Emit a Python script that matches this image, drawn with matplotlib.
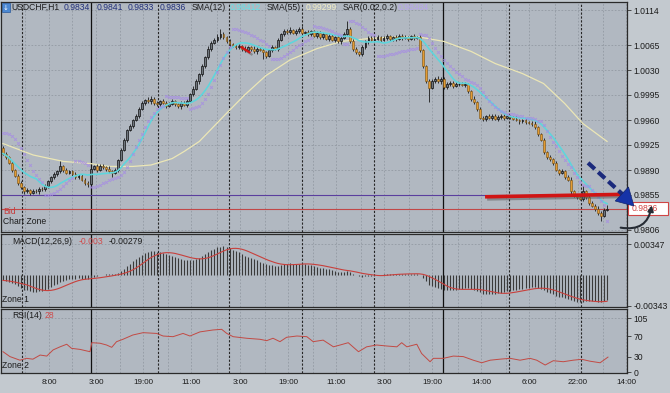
import numpy as np
import pandas as pd
import matplotlib
matplotlib.use("Agg")
import matplotlib.pyplot as plt
import matplotlib.transforms as mtransforms
import matplotlib.patheffects as pe
from matplotlib.patches import Polygon, Rectangle, FancyArrowPatch

plt.rcParams['font.family'] = ['Liberation Sans', 'DejaVu Sans']

W, H = 670, 393

# ---- price data, pips above 0.9800 (USDCHF H1) ----
first_open_pips = 121
close_pips = [
    113, 108, 100, 90, 82, 72, 66, 60, 62, 58,
    61, 60, 64, 63, 68, 74, 80, 84, 88, 95,
    90, 86, 88, 84, 80, 82, 76, 72, 70, 92,
    95, 90, 96, 94, 92, 88, 86, 90, 104, 118,
    132, 146, 152, 160, 166, 176, 184, 188, 186, 190,
    184, 182, 186, 184, 180, 183, 186, 182, 179, 184,
    181, 187, 196, 204, 214, 224, 236, 248, 260, 268,
    272, 276, 280, 276, 270, 266, 264, 262, 263, 260,
    258, 262, 260, 256, 260, 258, 255, 250, 258, 262,
    260, 272, 280, 285, 283, 286, 282, 284, 288, 282,
    283, 280, 284, 278, 282, 276, 280, 274, 278, 272,
    276, 270, 275, 280, 288, 270, 260, 255, 252, 262,
    270, 275, 272, 274, 276, 272, 275, 277, 273, 276,
    274, 278, 275, 276, 274, 277, 275, 276, 258, 235,
    215, 205, 215, 218, 214, 218, 206, 210, 212, 208,
    210, 211, 209, 210, 200, 190, 185, 176, 163, 162,
    165, 163, 166, 162, 164, 166, 163, 165, 164, 162,
    160, 158, 160, 157, 156, 155, 150, 140, 132, 115,
    108, 105, 100, 90, 86, 88, 80, 76, 60, 54,
    52, 50, 60, 52, 44, 40, 36, 30, 26, 34,
    36,
]
wick_up = [
    3, 2, 2, 3, 2, 2, 3, 2, 3, 2,
    2, 3, 2, 2, 3, 2, 2, 3, 2, 8,
    2, 3, 2, 2, 3, 2, 2, 3, 2, 3,
    2, 3, 2, 2, 2, 3, 2, 3, 2, 3,
    3, 2, 3, 2, 3, 2, 3, 2, 4, 3,
    2, 3, 2, 3, 2, 2, 3, 2, 2, 3,
    2, 3, 2, 3, 3, 2, 3, 2, 3, 2,
    3, 4, 8, 3, 2, 3, 2, 2, 3, 2,
    3, 2, 2, 3, 2, 2, 3, 2, 2, 3,
    2, 3, 2, 3, 2, 4, 2, 3, 2, 3,
    2, 3, 2, 2, 3, 2, 3, 2, 2, 3,
    2, 3, 2, 3, 10, 2, 3, 2, 2, 3,
    2, 3, 2, 2, 3, 2, 2, 3, 2, 2,
    3, 2, 2, 3, 2, 2, 3, 2, 3, 2,
    2, 3, 3, 2, 3, 2, 2, 3, 2, 2,
    3, 2, 2, 3, 2, 2, 3, 2, 2, 3,
    2, 3, 2, 2, 3, 2, 2, 3, 2, 2,
    3, 2, 2, 3, 2, 2, 3, 2, 2, 3,
    2, 3, 2, 3, 2, 3, 2, 3, 4, 2,
    3, 3, 7, 2, 3, 2, 2, 3, 2, 3,
    5,
]
wick_dn = [
    2, 3, 2, 3, 2, 3, 2, 3, 2, 3,
    2, 2, 3, 2, 2, 3, 2, 2, 3, 2,
    3, 2, 2, 3, 2, 3, 2, 3, 4, 2,
    2, 3, 2, 2, 3, 2, 6, 2, 3, 2,
    2, 3, 2, 3, 2, 3, 2, 3, 2, 3,
    3, 2, 3, 2, 3, 2, 2, 3, 2, 3,
    2, 3, 2, 3, 2, 3, 2, 3, 2, 3,
    2, 3, 2, 3, 2, 3, 2, 3, 2, 3,
    3, 2, 3, 2, 3, 2, 10, 3, 2, 3,
    2, 3, 2, 3, 2, 3, 2, 3, 2, 3,
    3, 2, 3, 2, 3, 2, 3, 2, 3, 2,
    3, 2, 3, 2, 3, 2, 3, 2, 3, 2,
    2, 3, 2, 3, 2, 3, 2, 3, 2, 3,
    3, 2, 3, 2, 3, 2, 3, 2, 3, 2,
    3, 20, 2, 3, 2, 3, 2, 3, 2, 3,
    2, 3, 2, 3, 2, 3, 2, 3, 2, 3,
    3, 2, 3, 2, 3, 2, 3, 2, 3, 2,
    2, 3, 2, 3, 2, 3, 2, 3, 2, 3,
    3, 2, 3, 2, 3, 2, 3, 2, 3, 2,
    3, 2, 3, 2, 3, 2, 3, 3, 8, 2,
    1,
]
# indicator state at the first visible bar
sar_first_pips = 142
ema12_seed_pips = 121
ema26_seed_pips = 127

# SMA(55) (bar, pips)
sma55_bars = [0, 10, 20, 29, 35, 43, 49, 56, 60, 65, 73, 80, 87, 95, 104, 112,
              121, 129, 138, 146, 155, 163, 172, 179, 186, 192, 200]
sma55_pips = [127, 111, 102, 99, 95, 95, 97, 106, 116, 130, 165, 195, 222, 244,
              260, 270, 274, 276, 276, 270, 256, 239, 225, 211, 183, 155, 130]

# RSI(14) (bar, value)
rsi_bars = [0, 2.3, 5.6, 7.8, 9.9, 12.3, 14.5, 16.6, 18.9, 21.1, 22.7, 25.5, 28.8,
            29.4, 32.1, 34.3, 36, 37.6, 39.7, 43, 46.4, 50.9, 53, 56.3, 59.6, 61.9,
            65.2, 69.5, 72.4, 74.1, 76.2, 80.7, 85.1, 87.3, 89.4, 91.7, 93.9, 97.3,
            100.6, 102.7, 106, 109.4, 111.6, 114.3, 117.7, 120.4, 123.7, 127, 130.4,
            132, 133.7, 137, 138.6, 141.4, 142.5, 145.8, 149.1, 152.4, 155.7, 158.5,
            161.3, 164.6, 167.9, 171.2, 174.5, 176.7, 179.5, 182.2, 185.5, 188.8,
            191.6, 194.4, 197.7, 200.3]
rsi_vals = [39.5, 30, 23, 26.6, 25, 33, 31, 43, 49, 54, 46, 44, 39.5,
            57, 56, 52.5, 48, 59, 63.6, 72, 76.5, 75, 70, 68.7, 75, 70,
            78, 81.7, 83, 75, 68.7, 65.6, 63.6, 61, 65.6, 59, 67.5, 70,
            68.7, 59, 62, 49, 52.5, 57, 39.5, 49, 52.5, 50.6, 49,
            57, 49, 54, 36, 20, 26.6, 26.6, 31, 30, 23, 18,
            23, 25, 26.6, 23, 26.6, 23, 13.6, 22, 20, 23,
            24.7, 21, 18, 29]

price_ticks = [1.0114, 1.0065, 1.0030, 0.9995, 0.9960, 0.9925, 0.9890, 0.9855, 0.9806]
macd_ticks = [0.00347, -0.00343]
rsi_ticks = [105, 70, 30, 0]
time_ticks = [15.2, 30.8, 46.4, 62.3, 78.5, 94.4, 110.3, 126.2, 142.1, 158.3, 174.2, 190.4, 206.3]
time_labels = ["8:00", "3:00", "19:00", "11:00", "3:00", "19:00", "11:00", "3:00",
               "19:00", "14:00", "6:00", "22:00", "14:00"]
day_breaks = [6.3, 51.3, 74.8, 99.0, 122.8, 167.5, 191.4]
week_breaks = [29.1, 145.7]
bid = 0.9836
level_line = 0.9855

# hand-drawn annotations (bar, price)
red_line = ([159.6, 206.6], [0.98525, 0.98560])
red_tick = ([79.0, 81.6], [1.00618, 1.00548])
blue_dash = ([193.7, 205.0], [0.9900, 0.98564])
blue_head = [(202.7, 0.98466), (207.1, 0.98662), (208.9, 0.98396)]
curve_arrow = ((203.6, 0.9810), (214.9, 0.98444))

# ---- derived series ----
n = len(close_pips)
idx = np.arange(n)
close = 0.98 + np.array(close_pips) / 1e4
open_ = np.r_[0.98 + first_open_pips / 1e4, close[:-1]]
high = np.maximum(open_, close) + np.array(wick_up) / 1e4
low = np.minimum(open_, close) - np.array(wick_dn) / 1e4

sma12 = pd.Series(close).rolling(12, min_periods=1).mean()


def ema(values, period, seed):
    k = 2.0 / (period + 1)
    out = np.empty(len(values))
    prev = seed
    for i, v in enumerate(values):
        prev = prev + k * (v - prev)
        out[i] = prev
    return out


macd = ema(close, 12, 0.98 + ema12_seed_pips / 1e4) - ema(close, 26, 0.98 + ema26_seed_pips / 1e4)
signal = pd.Series(macd).rolling(9, min_periods=1).mean()


def parabolic_sar(hi, lo, first, step=0.02, cap=0.2):
    out = np.empty(len(hi))
    out[0] = first
    trend, ep, af = -1, lo[0], step
    for i in range(1, len(hi)):
        v = out[i - 1] + af * (ep - out[i - 1])
        if trend < 0:
            v = max(v, hi[i - 1], hi[max(i - 2, 0)])
            if hi[i] > v:
                trend, v, ep, af = 1, ep, hi[i], step
            elif lo[i] < ep:
                ep, af = lo[i], min(af + step, cap)
        else:
            v = min(v, lo[i - 1], lo[max(i - 2, 0)])
            if lo[i] < v:
                trend, v, ep, af = -1, ep, lo[i], step
            elif hi[i] > ep:
                ep, af = hi[i], min(af + step, cap)
        out[i] = v
    return out


sar = parabolic_sar(high, low, 0.98 + sar_first_pips / 1e4)

# ---- figure ----
BG = '#b1b8c1'
GRID = '#929aa3'
DARK = '#1c1c1c'

fig = plt.figure(figsize=(W / 100, H / 100), dpi=100)
fig.patch.set_facecolor('#c3c9cf')


def box(top, bottom, left=1, right=627):
    return [left / W, 1 - bottom / H, (right - left) / W, (bottom - top) / H]


ax = fig.add_axes(box(2, 232))
ax2 = fig.add_axes(box(234, 307))
ax3 = fig.add_axes(box(309, 373))

xlim = (-0.66, 206.6)
for a in (ax, ax2, ax3):
    a.set_facecolor(BG)
    a.set_xlim(*xlim)
    for sp in a.spines.values():
        sp.set_color('#2a2a2a')
        sp.set_linewidth(0.9)
    for t in time_ticks:
        a.axvline(t, color=GRID, lw=0.6, ls=(0, (2, 2)), zorder=0)
        if t - 7.8 > 0:
            a.axvline(t - 7.8, color=GRID, lw=0.6, ls=(0, (2, 2)), zorder=0)
    for d in day_breaks:
        a.axvline(d, color='#262626', lw=0.8, ls=(0, (2, 1.5)), zorder=1)
    for d in week_breaks:
        a.axvline(d, color='#101010', lw=0.9, zorder=1)
    a.yaxis.tick_right()
    a.tick_params(axis='y', direction='out', length=3, width=0.6, colors='#333333',
                  labelsize=6.2, labelcolor=DARK, pad=1.5)
    a.tick_params(axis='x', bottom=False, labelbottom=False)

# main panel
ax.set_ylim(0.98032, 1.01252)
for p in price_ticks:
    ax.axhline(p, color=GRID, lw=0.6, ls=(0, (2, 2)), zorder=0)
ax.set_yticks(price_ticks, [f"{p:.4f}" for p in price_ticks])
ax.axhline(level_line, color='#5b3f9e', lw=0.8, zorder=2)
ax.axhline(bid, color='#c24848', lw=0.8, zorder=2)

ax.plot(sma55_bars, 0.98 + np.array(sma55_pips) / 1e4, color='#ece7b6', lw=0.9, zorder=3)
ax.vlines(idx, low, high, color='#1a1a1a', lw=0.6, zorder=4)
up = close >= open_
ax.bar(idx[up], (close - open_)[up], bottom=open_[up], width=0.62,
       facecolor='#6f767d', edgecolor='#101010', lw=0.5, zorder=5)
ax.bar(idx[~up], (close - open_)[~up], bottom=open_[~up], width=0.62,
       facecolor='#e49b33', edgecolor='#7a5212', lw=0.4, zorder=5)
ax.plot(idx, sma12, color='#5fd5dc', lw=1.2, zorder=6)
ax.plot(idx, sar, ls='none', marker='x', ms=1.9, mew=0.7, color='#a68ae6',
        alpha=0.8, zorder=6)

shadow = [pe.SimpleLineShadow(offset=(1.5, -1.5), shadow_color='#5a5a5a', alpha=0.5), pe.Normal()]
ax.plot(*red_line, color='#d01414', lw=2.6, solid_capstyle='butt', zorder=8,
        path_effects=shadow, clip_on=False)
ax.plot(*red_tick, color='#d01414', lw=1.6, zorder=8, path_effects=shadow)
ax.plot(*blue_dash, color='#1b2a7c', lw=3.0, ls=(0, (2.2, 1.1)), zorder=8, clip_on=False)
ax.add_patch(Polygon(blue_head, closed=True, fc='#1633a8', ec='#10246e', lw=0.5,
                     zorder=9, clip_on=False))
ax.add_patch(FancyArrowPatch(curve_arrow[0], curve_arrow[1], arrowstyle='-|>',
                             connectionstyle='arc3,rad=0.55', mutation_scale=8,
                             color='#262c34', lw=1.5, zorder=9, clip_on=False))

blend = mtransforms.blended_transform_factory(ax.transAxes, ax.transData)
ax.add_patch(Rectangle((1.002, bid - 0.00093), 0.064, 0.00186, transform=blend,
                       fc='white', ec='#d04545', lw=0.8, clip_on=False, zorder=7))
ax.text(1.007, bid, f"{bid:.4f}", transform=blend, color='#d04545', fontsize=6.2,
        va='center', ha='left', zorder=8, clip_on=False)

ax.text(2 / 626, 0.0875, "Bid", transform=ax.transAxes, color='#c83a3a', fontsize=6.2, va='center')
ax.text(2 / 626, 0.044, "Chart Zone", transform=ax.transAxes, color=DARK, fontsize=6.2, va='center')

# MACD panel
ax2.set_ylim(-0.003598, 0.004592)
ax2.axhline(macd_ticks[0], color=GRID, lw=0.6, ls=(0, (2, 2)), zorder=0)
ax2.vlines(idx, 0, macd, color='#3a3a3a', lw=0.8, zorder=3)
ax2.plot(idx, signal, color='#c8403c', lw=0.8, zorder=4)
ax2.set_yticks(macd_ticks, [f"{v:.5f}" for v in macd_ticks])

# RSI panel
ax3.set_ylim(-1.9, 122.5)
ax3.axhline(rsi_ticks[0], color=GRID, lw=0.6, ls=(0, (2, 2)), zorder=0)
ax3.plot(rsi_bars, rsi_vals, color='#c24a44', lw=0.7, zorder=4)
ax3.set_yticks(rsi_ticks, [str(v) for v in rsi_ticks])
ax3.set_xticks(time_ticks, time_labels)
ax3.tick_params(axis='x', bottom=True, labelbottom=True, length=0, pad=4,
                labelsize=5.8, labelcolor=DARK)


def fx(x, y):
    return x / W, 1 - y / H


# header line
fig.patches.append(Rectangle(fx(2, 12), 8 / W, 9 / H, transform=fig.transFigure,
                             fc='#4b88d2', ec='#2a5a9a', lw=0.5))
fig.text(*fx(6, 7.5), "\u2193", color='white', fontsize=5, ha='center', va='center',
         family='DejaVu Sans')
header = [(11, "USDCHF,H1", DARK), (64, "0.9834", '#22307a'), (97, "0.9841", '#22307a'),
          (128, "0.9833", '#22307a'), (160, "0.9836", '#22307a'), (192, "SMA(12)", DARK),
          (230, "0.98412", '#62e2e8'), (267, "SMA(55)", DARK), (306, "0.99299", '#f2eec4'),
          (343, "SAR(0.02,0.2)", DARK), (398, "0.98484", '#b7a4ee')]
for x, txt, col in header:
    fig.text(*fx(x, 7.5), txt, color=col, fontsize=6.2, va='center', ha='left')

fig.text(*fx(12, 241), "MACD(12,26,9)", color=DARK, fontsize=6.2, va='center')
fig.text(*fx(79, 241), "-0.003", color='#d04a4a', fontsize=6.2, va='center')
fig.text(*fx(109, 241), "-0.00279", color=DARK, fontsize=6.2, va='center')
fig.text(*fx(2, 299), "Zone 1", color=DARK, fontsize=6.2, va='center')
fig.text(*fx(12, 316), "RSI(14)", color=DARK, fontsize=6.2, va='center')
fig.text(*fx(45, 316), "28", color='#d04a4a', fontsize=6.2, va='center')
fig.text(*fx(2, 366), "Zone 2", color=DARK, fontsize=6.2, va='center')

fig.savefig("out.png", dpi=100, facecolor=fig.get_facecolor())
